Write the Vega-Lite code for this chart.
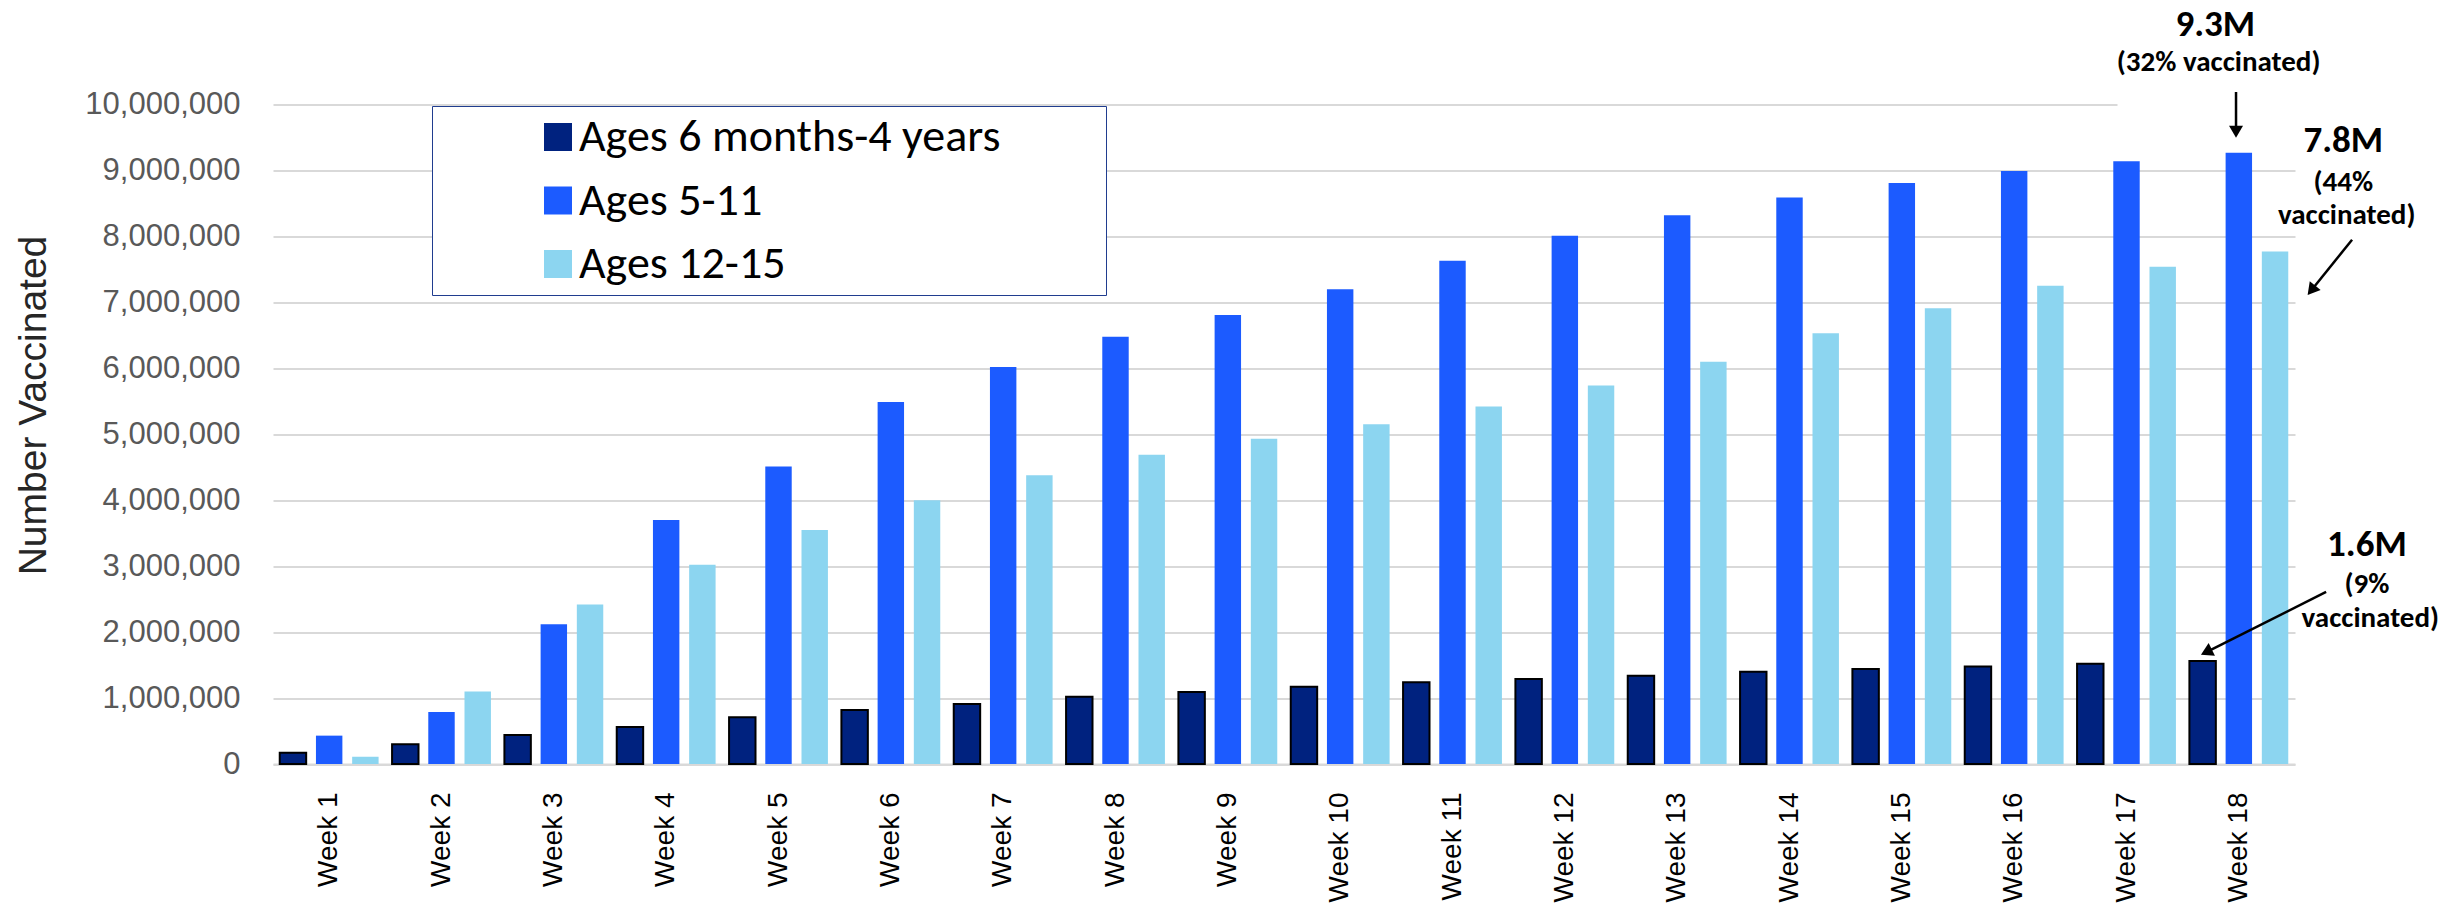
{
  "$schema": "https://vega.github.io/schema/vega-lite/v6.json",
  "width": 2022,
  "height": 659.5,
  "autosize": {"type": "none"},
  "padding": {"left": 273, "top": 104.5, "right": 150, "bottom": 145},
  "background": "white",
  "config": {"view": {"stroke": null}},
  "datasets": {
    "bars": [
      {"week": "Week 1", "group": "Ages 6 months-4 years", "value": 170000},
      {"week": "Week 1", "group": "Ages 5-11", "value": 430000},
      {"week": "Week 1", "group": "Ages 12-15", "value": 110000},
      {"week": "Week 2", "group": "Ages 6 months-4 years", "value": 300000},
      {"week": "Week 2", "group": "Ages 5-11", "value": 790000},
      {"week": "Week 2", "group": "Ages 12-15", "value": 1100000},
      {"week": "Week 3", "group": "Ages 6 months-4 years", "value": 440000},
      {"week": "Week 3", "group": "Ages 5-11", "value": 2120000},
      {"week": "Week 3", "group": "Ages 12-15", "value": 2420000},
      {"week": "Week 4", "group": "Ages 6 months-4 years", "value": 560000},
      {"week": "Week 4", "group": "Ages 5-11", "value": 3700000},
      {"week": "Week 4", "group": "Ages 12-15", "value": 3020000},
      {"week": "Week 5", "group": "Ages 6 months-4 years", "value": 710000},
      {"week": "Week 5", "group": "Ages 5-11", "value": 4510000},
      {"week": "Week 5", "group": "Ages 12-15", "value": 3550000},
      {"week": "Week 6", "group": "Ages 6 months-4 years", "value": 820000},
      {"week": "Week 6", "group": "Ages 5-11", "value": 5490000},
      {"week": "Week 6", "group": "Ages 12-15", "value": 4000000},
      {"week": "Week 7", "group": "Ages 6 months-4 years", "value": 910000},
      {"week": "Week 7", "group": "Ages 5-11", "value": 6020000},
      {"week": "Week 7", "group": "Ages 12-15", "value": 4380000},
      {"week": "Week 8", "group": "Ages 6 months-4 years", "value": 1020000},
      {"week": "Week 8", "group": "Ages 5-11", "value": 6480000},
      {"week": "Week 8", "group": "Ages 12-15", "value": 4690000},
      {"week": "Week 9", "group": "Ages 6 months-4 years", "value": 1090000},
      {"week": "Week 9", "group": "Ages 5-11", "value": 6810000},
      {"week": "Week 9", "group": "Ages 12-15", "value": 4930000},
      {"week": "Week 10", "group": "Ages 6 months-4 years", "value": 1170000},
      {"week": "Week 10", "group": "Ages 5-11", "value": 7200000},
      {"week": "Week 10", "group": "Ages 12-15", "value": 5150000},
      {"week": "Week 11", "group": "Ages 6 months-4 years", "value": 1240000},
      {"week": "Week 11", "group": "Ages 5-11", "value": 7630000},
      {"week": "Week 11", "group": "Ages 12-15", "value": 5420000},
      {"week": "Week 12", "group": "Ages 6 months-4 years", "value": 1290000},
      {"week": "Week 12", "group": "Ages 5-11", "value": 8010000},
      {"week": "Week 12", "group": "Ages 12-15", "value": 5740000},
      {"week": "Week 13", "group": "Ages 6 months-4 years", "value": 1340000},
      {"week": "Week 13", "group": "Ages 5-11", "value": 8320000},
      {"week": "Week 13", "group": "Ages 12-15", "value": 6100000},
      {"week": "Week 14", "group": "Ages 6 months-4 years", "value": 1400000},
      {"week": "Week 14", "group": "Ages 5-11", "value": 8590000},
      {"week": "Week 14", "group": "Ages 12-15", "value": 6530000},
      {"week": "Week 15", "group": "Ages 6 months-4 years", "value": 1440000},
      {"week": "Week 15", "group": "Ages 5-11", "value": 8810000},
      {"week": "Week 15", "group": "Ages 12-15", "value": 6910000},
      {"week": "Week 16", "group": "Ages 6 months-4 years", "value": 1480000},
      {"week": "Week 16", "group": "Ages 5-11", "value": 8990000},
      {"week": "Week 16", "group": "Ages 12-15", "value": 7250000},
      {"week": "Week 17", "group": "Ages 6 months-4 years", "value": 1520000},
      {"week": "Week 17", "group": "Ages 5-11", "value": 9140000},
      {"week": "Week 17", "group": "Ages 12-15", "value": 7540000},
      {"week": "Week 18", "group": "Ages 6 months-4 years", "value": 1560000},
      {"week": "Week 18", "group": "Ages 5-11", "value": 9270000},
      {"week": "Week 18", "group": "Ages 12-15", "value": 7770000}
    ],
    "notes": [
      {"label": "9.3M", "kind": "big", "w": 17.79, "v": 11210000},
      {"label": "(32% vaccinated)", "kind": "small", "w": 17.82, "v": 10640000},
      {"label": "7.8M", "kind": "big", "w": 18.93, "v": 9440000},
      {"label": "(44%", "kind": "small", "w": 18.93, "v": 8830000},
      {"label": "vaccinated)", "kind": "small", "w": 18.96, "v": 8330000},
      {"label": "1.6M", "kind": "big", "w": 19.14, "v": 3320000},
      {"label": "(9%", "kind": "small", "w": 19.14, "v": 2730000},
      {"label": "vaccinated)", "kind": "small", "w": 19.17, "v": 2220000}
    ],
    "boxes": [
      {"w": 16.92, "w2": 18.6, "v": 9960000, "v2": 10400000}
    ],
    "arrows": [
      {"w": 17.975, "v": 10190000, "w2": 17.975, "v2": 9586000, "angle": 180},
      {"w": 19.008, "v": 7950000, "w2": 18.646, "v2": 7183000, "angle": 218.8},
      {"w": 18.777, "v": 2610000, "w2": 17.711, "v2": 1697000, "angle": 243.4}
    ]
  },
  "layer": [
    {
      "data": {"name": "bars"},
      "mark": {"type": "bar", "strokeWidth": 2},
      "encoding": {
        "x": {
          "field": "week", "type": "nominal", "sort": null,
          "scale": {"paddingInner": 0.12, "paddingOuter": 0.06},
          "axis": {
            "title": null, "labelAngle": -90, "labelFont": "Liberation Sans",
            "labelFontSize": 28, "labelColor": "#000000", "labelPadding": 28,
            "ticks": false, "tickSize": 0, "domainColor": "#D9D9D9", "domainWidth": 2,
            "grid": false
          }
        },
        "xOffset": {
          "field": "group", "type": "nominal",
          "sort": ["Ages 6 months-4 years", "Ages 5-11", "Ages 12-15"],
          "scale": {"paddingInner": 0.27}
        },
        "y": {
          "field": "value", "type": "quantitative",
          "scale": {"domain": [0, 10000000], "nice": false},
          "axis": {
            "title": "Number Vaccinated",
            "values": [0, 1000000, 2000000, 3000000, 4000000, 5000000, 6000000, 7000000, 8000000, 9000000, 10000000],
            "format": ",d", "labelFont": "Liberation Sans", "labelFontSize": 31,
            "labelColor": "#595959", "labelPadding": 33, "ticks": false, "tickSize": 0,
            "domain": false, "gridColor": "#D9D9D9", "gridWidth": 2,
            "titleFont": "Liberation Sans",
            "titleFontSize": 39, "titleFontWeight": "normal", "titleColor": "#262626",
            "titleX": -240, "titleY": 300.5, "titleAngle": 270, "titleAlign": "center",
            "titleBaseline": "middle"
          }
        },
        "color": {
          "field": "group", "type": "nominal",
          "scale": {
            "domain": ["Ages 6 months-4 years", "Ages 5-11", "Ages 12-15"],
            "range": ["#00227F", "#1C5BFF", "#8CD5F0"]
          },
          "legend": {
            "orient": "none", "legendX": 159, "legendY": 1.5,
            "title": " ", "titleOrient": "right", "titlePadding": 98, "titleFontSize": 1,
            "direction": "vertical", "symbolType": "square", "symbolSize": 784,
            "symbolOffset": 95, "labelOffset": -2, "labelFont": "Carlito, Lato",
            "labelFontSize": 46, "labelColor": "#000000", "labelLimit": 900,
            "rowPadding": 17.5, "padding": 8, "strokeColor": "#203D8F",
            "fillColor": "#FFFFFF"
          }
        },
        "stroke": {
          "condition": {"test": "datum.group === 'Ages 6 months-4 years'", "value": "#000000"},
          "value": "transparent"
        }
      }
    },
    {
      "layer": [
        {
          "data": {"name": "boxes"},
          "mark": {"type": "rect", "color": "#FFFFFF"},
          "encoding": {
            "x": {"field": "w", "type": "quantitative", "scale": {"domain": [0.5, 18.5], "nice": false, "zero": false}, "axis": null},
            "y": {"field": "v", "type": "quantitative", "scale": {"domain": [0, 10000000], "nice": false, "zero": false}, "axis": null},
            "x2": {"field": "w2"},
            "y2": {"field": "v2"}
          }
        },
        {
          "data": {"name": "notes"},
          "transform": [{"filter": "datum.kind === 'big'"}],
          "mark": {"type": "text", "font": "Carlito, Lato", "fontWeight": "bold", "fontSize": 37, "color": "#000000", "baseline": "middle", "align": "center"},
          "encoding": {
            "x": {"field": "w", "type": "quantitative", "scale": {"domain": [0.5, 18.5], "nice": false, "zero": false}, "axis": null},
            "y": {"field": "v", "type": "quantitative", "scale": {"domain": [0, 10000000], "nice": false, "zero": false}, "axis": null},
            "text": {"field": "label"}
          }
        },
        {
          "data": {"name": "notes"},
          "transform": [{"filter": "datum.kind === 'small'"}],
          "mark": {"type": "text", "font": "Carlito, Lato", "fontWeight": "bold", "fontSize": 29, "color": "#000000", "baseline": "middle", "align": "center"},
          "encoding": {
            "x": {"field": "w", "type": "quantitative", "scale": {"domain": [0.5, 18.5], "nice": false, "zero": false}, "axis": null},
            "y": {"field": "v", "type": "quantitative", "scale": {"domain": [0, 10000000], "nice": false, "zero": false}, "axis": null},
            "text": {"field": "label"}
          }
        },
        {
          "data": {"name": "arrows"},
          "mark": {"type": "rule", "strokeWidth": 2.5, "color": "#000000"},
          "encoding": {
            "x": {"field": "w", "type": "quantitative", "scale": {"domain": [0.5, 18.5], "nice": false, "zero": false}, "axis": null},
            "y": {"field": "v", "type": "quantitative", "scale": {"domain": [0, 10000000], "nice": false, "zero": false}, "axis": null},
            "x2": {"field": "w2"},
            "y2": {"field": "v2"}
          }
        },
        {
          "data": {"name": "arrows"},
          "mark": {"type": "point", "shape": "triangle-up", "filled": true, "size": 196, "color": "#000000", "opacity": 1},
          "encoding": {
            "x": {"field": "w2", "type": "quantitative", "scale": {"domain": [0.5, 18.5], "nice": false, "zero": false}, "axis": null},
            "y": {"field": "v2", "type": "quantitative", "scale": {"domain": [0, 10000000], "nice": false, "zero": false}, "axis": null},
            "angle": {"field": "angle", "type": "quantitative", "scale": null}
          }
        }
      ]
    }
  ],
  "resolve": {"scale": {"x": "independent", "y": "independent"}}
}
